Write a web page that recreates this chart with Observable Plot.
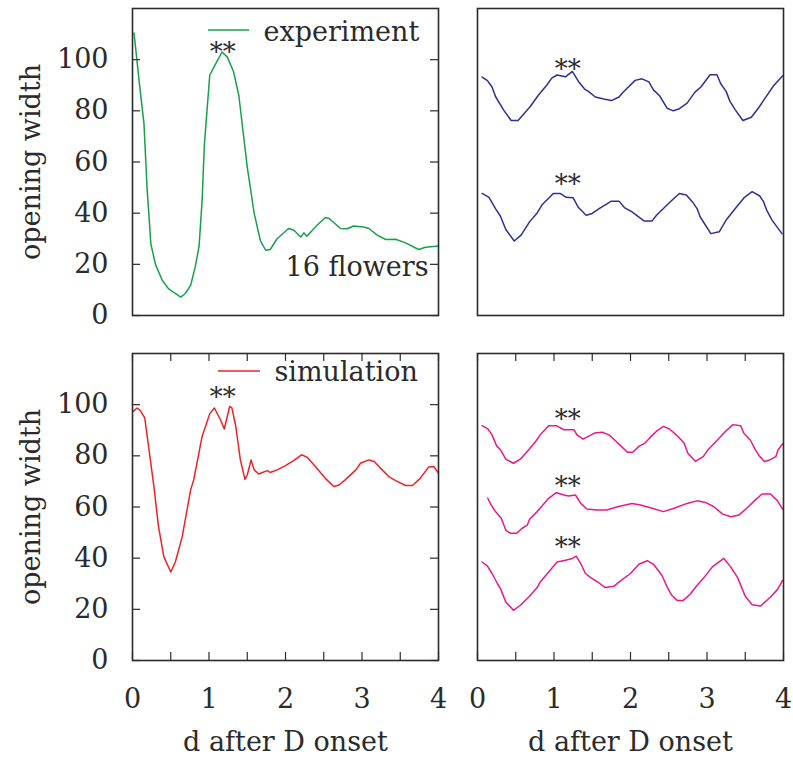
<!DOCTYPE html>
<html><head><meta charset="utf-8">
<script src="https://cdn.jsdelivr.net/npm/d3@7"></script>
<script src="https://cdn.jsdelivr.net/npm/@observablehq/plot@0.6"></script>
<style>
body{margin:0;background:#fff;}
#wrap{position:relative;width:793px;height:760px;overflow:hidden;}
#wrap svg{position:absolute;}
g[aria-label="word"] text{letter-spacing:0.5px;}
g[aria-label="word1"] text{letter-spacing:-0.4px;}
</style></head><body><div id="wrap"></div>
<script>
// ---- data (d after D onset, opening width) ----
const xTicks = [0, 0.5, 1, 1.5, 2, 2.5, 3, 3.5, 4];
const xLabels = [0, 1, 2, 3, 4];
const yTicks = [0, 20, 40, 60, 80, 100];

const experiment = [[0.02,110.4],[0.10,88],[0.15,75],[0.19,50],[0.24,28],[0.30,20],[0.39,13.7],[0.47,10.5],[0.55,8.8],[0.63,7.2],[0.69,8.6],[0.76,11.8],[0.82,19],[0.87,27],[0.91,45],[0.94,67],[1.01,94],[1.08,98],[1.17,103],[1.24,101],[1.32,95.4],[1.39,86],[1.50,58],[1.59,40],[1.67,29.4],[1.74,25.5],[1.80,25.8],[1.89,30],[2.04,34],[2.11,33.3],[2.20,30.7],[2.24,32.3],[2.28,31],[2.39,34.6],[2.52,38.3],[2.57,37.9],[2.72,34],[2.81,33.9],[2.89,35],[3.02,34.6],[3.09,34],[3.20,31.4],[3.31,29.7],[3.44,29.8],[3.57,28.4],[3.74,25.8],[3.83,26.7],[4.0,27.2]];

const expUpper = [[0.06,93.2],[0.13,91.8],[0.19,89.3],[0.235,85.6],[0.34,80.4],[0.44,76.2],[0.53,76.2],[0.69,81.7],[0.80,86.3],[0.91,90.2],[0.97,92.8],[1.04,94],[1.15,93.3],[1.24,95.4],[1.32,91.5],[1.40,88.5],[1.45,87.6],[1.54,85.4],[1.65,84.6],[1.75,84],[1.85,85.4],[1.90,87.2],[2.06,91.9],[2.15,92.5],[2.24,91.3],[2.30,88.2],[2.38,85.9],[2.48,81],[2.56,80],[2.63,80.7],[2.74,83],[2.84,87.2],[2.92,89.3],[3.04,94.1],[3.13,94.1],[3.18,90.6],[3.25,87.6],[3.30,83.7],[3.37,80.4],[3.47,76.2],[3.58,77.5],[3.68,81.4],[3.76,85],[3.87,89.8],[3.99,93.7]];

const expLower = [[0.06,47.7],[0.15,46.2],[0.235,41.8],[0.30,38.8],[0.37,33.6],[0.48,29.1],[0.57,31.4],[0.68,36.6],[0.78,40.1],[0.85,43.5],[0.93,45.8],[0.99,47.7],[1.08,47.7],[1.16,46.2],[1.25,46],[1.32,42.2],[1.42,39.2],[1.50,39.9],[1.59,41.8],[1.75,44.7],[1.85,44.7],[1.92,42.2],[2.02,40.5],[2.18,36.9],[2.28,36.9],[2.34,39.2],[2.46,42.7],[2.57,45.8],[2.64,47.7],[2.73,47.1],[2.81,44.4],[2.87,41.8],[2.91,38.6],[3.05,32],[3.16,32.7],[3.25,37.3],[3.37,41.8],[3.49,46.2],[3.59,48.4],[3.69,46.7],[3.74,44.4],[3.78,41.2],[3.85,37.3],[3.98,32]];

const simulation = [[0.01,97.4],[0.06,98.7],[0.10,97.8],[0.16,94.8],[0.21,83.7],[0.28,68],[0.34,52.3],[0.41,40.5],[0.50,34.6],[0.56,38.5],[0.65,48.4],[0.76,66.7],[0.80,70.6],[0.91,87.6],[1.01,96.5],[1.07,98.7],[1.15,94.1],[1.20,90.5],[1.27,99.3],[1.30,98.7],[1.35,91.5],[1.41,78.4],[1.47,70.8],[1.50,72.5],[1.55,78.4],[1.59,74.5],[1.65,72.9],[1.76,74.2],[1.80,73.5],[1.89,74.5],[2.00,76.2],[2.11,78.2],[2.21,80.4],[2.28,79.5],[2.39,75.8],[2.52,71.2],[2.63,68],[2.70,68.6],[2.78,70.6],[2.92,74.5],[2.98,77.1],[3.09,78.4],[3.16,77.8],[3.24,75.2],[3.35,71.9],[3.44,70.3],[3.57,68.4],[3.66,68.4],[3.76,71.2],[3.87,75.6],[3.94,75.8],[4.00,73.2]];

const simUpper = [[0.06,91.8],[0.135,90.5],[0.19,88.2],[0.25,83.9],[0.30,82.4],[0.37,78.7],[0.47,77.1],[0.56,78.7],[0.67,82.4],[0.76,85.6],[0.82,88.2],[0.93,91.8],[1.03,91.8],[1.13,90.2],[1.26,90.2],[1.30,88.2],[1.38,86.5],[1.43,87.3],[1.53,88.9],[1.63,89.2],[1.72,88.2],[1.80,86],[1.89,83.4],[1.96,81.4],[2.03,81.4],[2.11,83.7],[2.19,85],[2.26,87.3],[2.35,89.9],[2.43,91.5],[2.51,90.5],[2.62,87.6],[2.70,85],[2.75,81],[2.85,77.8],[2.95,79.7],[3.02,82.6],[3.13,86],[3.24,89.5],[3.34,92.2],[3.44,91.8],[3.48,88.9],[3.57,86],[3.63,82.4],[3.69,79.7],[3.75,77.8],[3.82,78.4],[3.90,79.7],[3.93,82.4],[3.99,84.7]];

const simMiddle = [[0.135,63.4],[0.17,61.2],[0.235,58.2],[0.31,55.6],[0.37,51],[0.43,49.7],[0.51,49.7],[0.58,51.6],[0.65,52.9],[0.68,55.2],[0.78,58.2],[0.93,63.4],[1.03,65.6],[1.13,64.7],[1.19,64.3],[1.28,64.7],[1.35,61.4],[1.43,59.2],[1.56,58.8],[1.69,58.8],[1.83,60.1],[2.02,61.4],[2.13,60.8],[2.26,59.7],[2.43,58.2],[2.57,59.5],[2.74,61.4],[2.87,62.4],[2.98,61.8],[3.09,60.1],[3.20,57.3],[3.31,56.2],[3.42,56.9],[3.52,59.5],[3.63,62.7],[3.72,65.1],[3.83,65.1],[3.92,62.5],[3.99,59.1]];

const simLower = [[0.06,38.5],[0.13,36.9],[0.19,34],[0.26,30.1],[0.30,28.1],[0.37,22.9],[0.47,19.6],[0.56,21.6],[0.67,24.8],[0.78,28.5],[0.82,30.7],[0.93,34.6],[1.04,38.5],[1.15,39.2],[1.24,39.9],[1.29,40.8],[1.35,37.9],[1.41,34],[1.48,32.4],[1.59,30.3],[1.67,28.5],[1.78,29],[1.89,31.6],[2.00,34],[2.11,37.6],[2.22,39],[2.30,37.6],[2.41,33.3],[2.48,28.7],[2.54,25.5],[2.61,23.5],[2.69,23.5],[2.78,25.9],[2.86,29],[2.96,32.4],[3.07,36.6],[3.22,39.9],[3.31,36.6],[3.40,32.4],[3.50,25.1],[3.59,21.8],[3.70,21.3],[3.83,24.8],[3.92,27.7],[3.99,31.4]];

// "**" annotation positions
const starsExp = [[1.18,105.5]];
const starsExpRight = [[1.18,98.9],[1.18,54]];
const starsSim = [[1.18,105.5]];
const starsSimRight = [[1.18,97],[1.18,70.8],[1.18,46.9]];

const legendExp = ["experiment"];
const legendSim = ["simulation"];
const noteExp = ["16 flowers"];
const yTitle = ["opening width"];
const xTitle = ["d after D onset"];

// ---- colours ----
const GREEN = "#17a04b", NAVY = "#2e3192", RED = "#ec2227", MAGENTA = "#e8198b", INK = "#2b2b2b";
const FONT = "DejaVu Serif";
const FS = 27;

const wrap = document.getElementById("wrap");

function panel(o) {
  const fw = o.width - o.mL - o.mR, fh = o.height - o.mT - o.mB;
  const marks = [];
  for (const s of o.series) {
    marks.push(Plot.line(s.data, {x: d => d[0], y: d => d[1], stroke: s.color, strokeWidth: 1.5, curve: "linear"}));
  }
  if (o.yTicks) {
    marks.push(Plot.tickY(yTicks, {y: d => d, stroke: INK, strokeWidth: 1.2, insetRight: fw - 8}));
    marks.push(Plot.tickY(yTicks, {y: d => d, stroke: INK, strokeWidth: 1.2, insetLeft: fw - 8}));
  }
  if (o.xTicks) {
    marks.push(Plot.tickX(xTicks, {x: d => d, stroke: INK, strokeWidth: 1.2, insetBottom: fh - 8}));
    marks.push(Plot.tickX(xTicks, {x: d => d, stroke: INK, strokeWidth: 1.2, insetTop: fh - 8}));
  }
  if (o.yAxis) {
    marks.push(Plot.axisY({ticks: yTicks, tickSize: 0, tickPadding: 24, fontSize: FS, fontFamily: FONT, fill: INK}));
    marks.push(Plot.text(yTitle, {frameAnchor: "left", rotate: -90, dx: -101, textAnchor: "middle", lineAnchor: "middle", text: d => d, fontSize: FS, fontFamily: FONT, fill: INK, ariaLabel: "word"}));
  }
  if (o.xAxis) {
    marks.push(Plot.axisX({ticks: xLabels, tickSize: 0, tickPadding: 28, fontSize: FS, fontFamily: FONT, fill: INK, tickFormat: d => String(d)}));
    marks.push(Plot.text(xTitle, {frameAnchor: "bottom", dy: 82, textAnchor: "middle", lineAnchor: "middle", text: d => d, fontSize: FS, fontFamily: FONT, fill: INK, ariaLabel: "word"}));
  }
  if (o.stars) {
    marks.push(Plot.text(o.stars, {x: d => d[0], y: d => d[1], text: () => "**", fontSize: 26, dy: 7, fontFamily: FONT, fill: INK}));
  }
  if (o.legend) {
    marks.push(Plot.text(o.legend.text, {frameAnchor: "top-left", dx: o.legend.dx, dy: o.legend.dy, textAnchor: "start", lineAnchor: "middle", text: d => d, fontSize: FS, fontFamily: FONT, fill: INK, ariaLabel: "word"}));
  }
  if (o.note) {
    marks.push(Plot.text(o.note, {frameAnchor: "bottom-left", dx: 153, dy: -48, textAnchor: "start", lineAnchor: "middle", text: d => d, fontSize: FS, fontFamily: FONT, fill: INK, ariaLabel: "word1"}));
  }
  marks.push(Plot.frame({stroke: INK, strokeWidth: 1.6}));
  const svg = Plot.plot({
    width: o.width, height: o.height,
    marginLeft: o.mL, marginRight: o.mR, marginTop: o.mT, marginBottom: o.mB,
    x: {domain: [0, 4], axis: null},
    y: {domain: [0, 120], axis: null},
    style: {fontFamily: FONT, fontSize: FS + "px", color: INK, background: "transparent", overflow: "visible"},
    marks
  });
  svg.style.left = o.left + "px";
  svg.style.top = o.top + "px";
  if (o.legend) {
    d3.select(svg).append("line")
      .attr("x1", o.legend.sx1).attr("x2", o.legend.sx2)
      .attr("y1", o.legend.sy).attr("y2", o.legend.sy)
      .attr("stroke", o.legend.color).attr("stroke-width", 1.5);
  }
  wrap.appendChild(svg);
}

// top-left: experiment average
panel({left: 0, top: 0, width: 450, height: 335, mL: 132, mR: 12, mT: 8, mB: 20,
  series: [{data: experiment, color: GREEN}], yTicks: true, yAxis: true,
  stars: starsExp, note: noteExp,
  legend: {text: legendExp, dx: 131, dy: 24, sx1: 208, sx2: 249, sy: 30, color: GREEN}});

// top-right: two experiment groups
panel({left: 450, top: 0, width: 343, height: 335, mL: 27, mR: 10, mT: 8, mB: 20,
  series: [{data: expUpper, color: NAVY}, {data: expLower, color: NAVY}],
  stars: starsExpRight});

// bottom-left: simulation average
panel({left: 0, top: 335, width: 450, height: 425, mL: 132, mR: 12, mT: 18, mB: 100,
  series: [{data: simulation, color: RED}], yTicks: true, yAxis: true, xTicks: true, xAxis: true,
  stars: starsSim,
  legend: {text: legendSim, dx: 142, dy: 19, sx1: 218, sx2: 260, sy: 36, color: RED}});

// bottom-right: three simulated groups
panel({left: 450, top: 335, width: 343, height: 425, mL: 27, mR: 10, mT: 18, mB: 100,
  series: [{data: simUpper, color: MAGENTA}, {data: simMiddle, color: MAGENTA}, {data: simLower, color: MAGENTA}],
  xTicks: true, xAxis: true, stars: starsSimRight});
</script></body></html>
